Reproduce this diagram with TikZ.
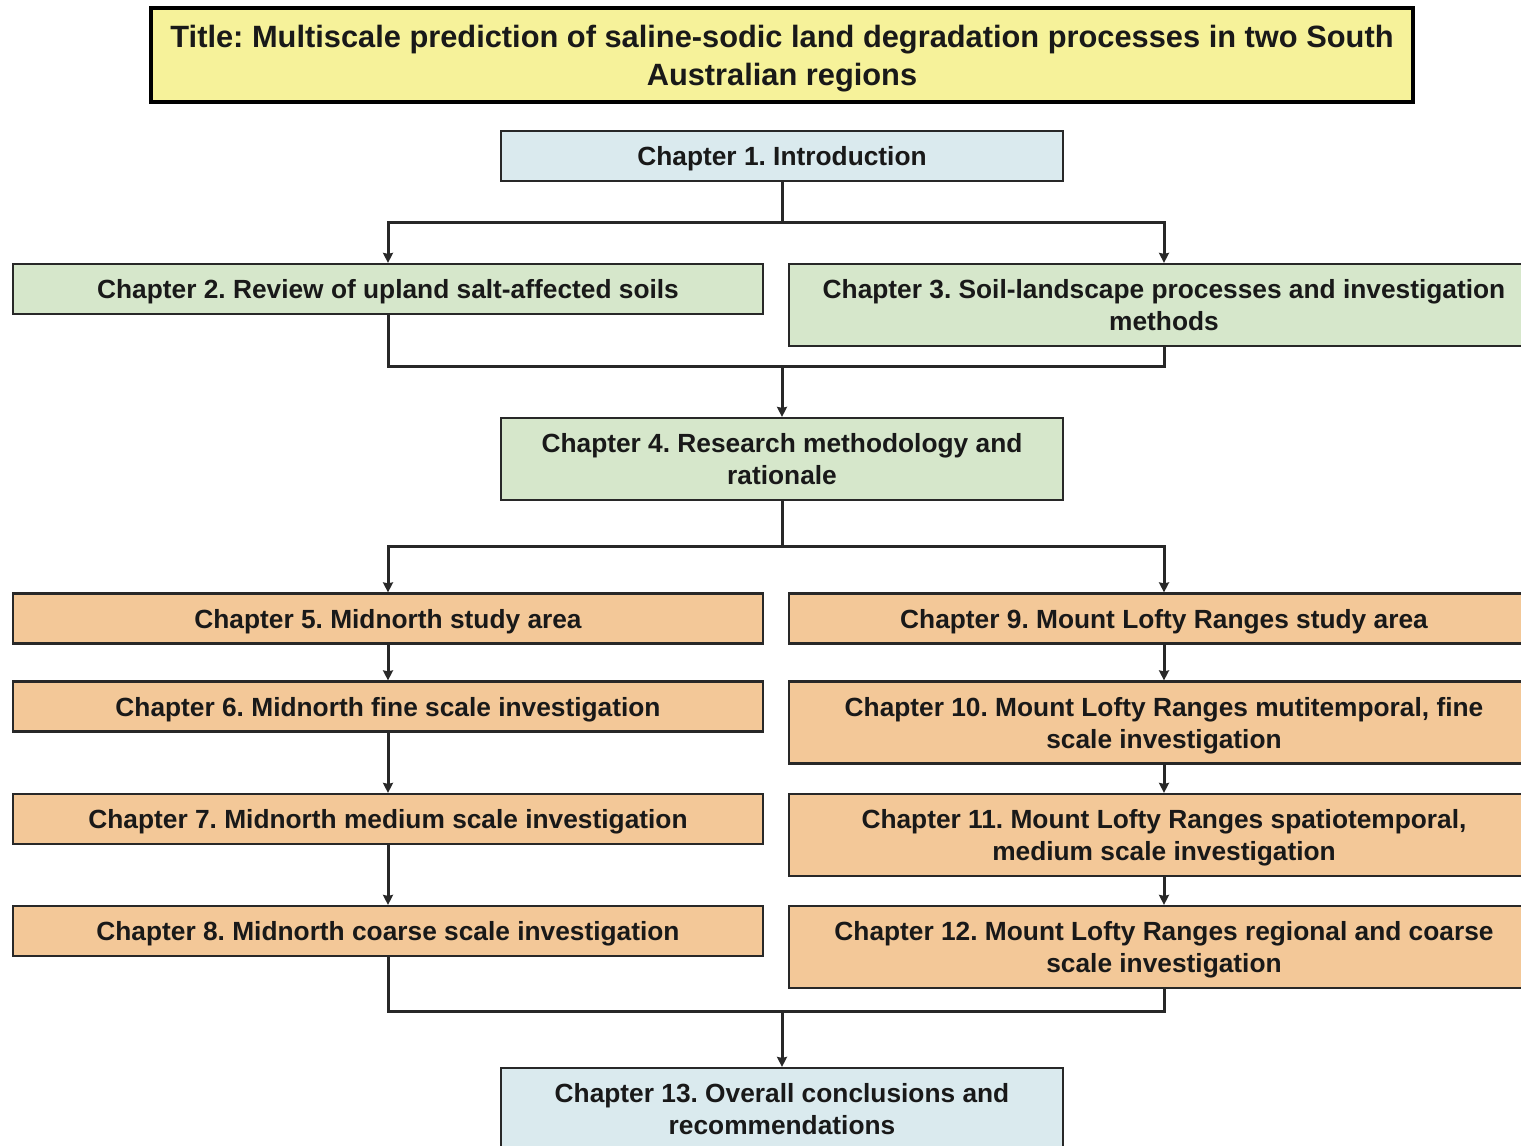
\documentclass[tikz,border=0pt]{standalone}
\usepackage{fontspec}
\setmainfont{Liberation Sans}
\usetikzlibrary{arrows.meta}
\frenchspacing

\definecolor{titleyellow}{RGB}{246,242,154}
\definecolor{introblue}{RGB}{218,234,238}
\definecolor{reviewgreen}{RGB}{214,231,203}
\definecolor{caseorange}{RGB}{243,200,152}
\definecolor{boxline}{RGB}{40,40,40}
\definecolor{inktext}{RGB}{25,25,25}

\begin{document}
\begin{tikzpicture}[x=1pt, y=-1pt, >={Stealth[length=10pt,width=10pt,inset=1pt]},
    chap/.style={draw=boxline, line width=2.2pt, text=inktext, align=center, inner sep=0pt,
        text depth=0pt, font=\fontsize{26.3}{32}\selectfont\bfseries},
    wide/.style={chap, minimum width=750pt},
    mid/.style={chap, minimum width=562pt},
    one/.style={minimum height=50pt},
    two/.style={minimum height=82pt},
    link/.style={line width=3pt, draw=boxline}]
    \useasboundingbox (0,0) rectangle (1521,1146);
    \clip (0,0) rectangle (1521,1146);

    % Titel
    \node[draw=black, line width=4pt, fill=titleyellow, text=inktext, align=center,
        minimum width=1262pt, minimum height=94pt, inner sep=0pt, text depth=0pt,
        font=\fontsize{30.8}{38}\selectfont\bfseries] (title) at (782,55)
        {Title: Multiscale prediction of saline-sodic land degradation processes in two South\\Australian regions};

    % Einleitung und Grundlagen
    \node[mid, one, fill=introblue] (ch1) at (782,156) {Chapter 1. Introduction};
    \node[wide, one, fill=reviewgreen] (ch2) at (388,289) {Chapter 2. Review of upland salt-affected soils};
    \node[wide, two, fill=reviewgreen] (ch3) at (1164,305) {Chapter 3. Soil-landscape processes and investigation\\methods};
    \node[mid, two, fill=reviewgreen] (ch4) at (782,459) {Chapter 4. Research methodology and\\rationale};

    % Midnorth
    \node[wide, one, fill=caseorange] (ch5) at (388,618.5) {Chapter 5. Midnorth study area};
    \node[wide, one, fill=caseorange] (ch6) at (388,706.5) {Chapter 6. Midnorth fine scale investigation};
    \node[wide, one, fill=caseorange] (ch7) at (388,819) {Chapter 7. Midnorth medium scale investigation};
    \node[wide, one, fill=caseorange] (ch8) at (388,931) {Chapter 8. Midnorth coarse scale investigation};

    % Mount Lofty Ranges
    \node[wide, one, fill=caseorange] (ch9) at (1164,618.5) {Chapter 9. Mount Lofty Ranges study area};
    \node[wide, two, fill=caseorange] (ch10) at (1164,722.5) {Chapter 10. Mount Lofty Ranges mutitemporal, fine\\scale investigation};
    \node[wide, two, fill=caseorange] (ch11) at (1164,835) {Chapter 11. Mount Lofty Ranges spatiotemporal,\\medium scale investigation};
    \node[wide, two, fill=caseorange] (ch12) at (1164,947) {Chapter 12. Mount Lofty Ranges regional and coarse\\scale investigation};

    % Schluss
    \node[mid, two, fill=introblue] (ch13) at (782,1109) {Chapter 13. Overall conclusions and\\recommendations};

    % Verzweigungen
    \coordinate (split1) at (782,222);
    \coordinate (merge1) at (782,366);
    \coordinate (split2) at (782,546);
    \coordinate (merge2) at (782,1011);

    \draw[link] (ch1.south) -- (split1);
    \draw[link, ->] (split1) -| (ch2.north);
    \draw[link, ->] (split1) -| (ch3.north);
    \draw[link] (ch2.south) |- (merge1);
    \draw[link] (ch3.south) |- (merge1);
    \draw[link, ->] (merge1) -- (ch4.north);

    \draw[link] (ch4.south) -- (split2);
    \draw[link, ->] (split2) -| (ch5.north);
    \draw[link, ->] (split2) -| (ch9.north);

    \draw[link, ->] (ch5.south) -- (ch6.north);
    \draw[link, ->] (ch6.south) -- (ch7.north);
    \draw[link, ->] (ch7.south) -- (ch8.north);
    \draw[link, ->] (ch9.south) -- (ch10.north);
    \draw[link, ->] (ch10.south) -- (ch11.north);
    \draw[link, ->] (ch11.south) -- (ch12.north);

    \draw[link] (ch8.south) |- (merge2);
    \draw[link] (ch12.south) |- (merge2);
    \draw[link, ->] (merge2) -- (ch13.north);
\end{tikzpicture}
\end{document}
